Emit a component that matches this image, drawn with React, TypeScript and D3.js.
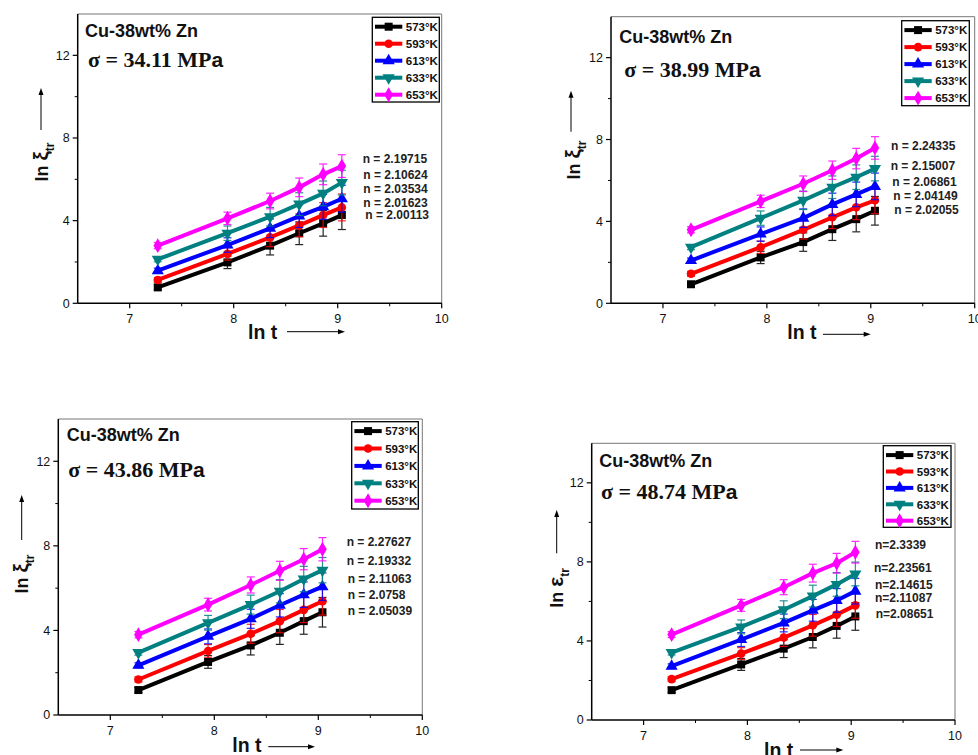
import React from 'react';
import * as d3 from 'd3';

// ---- data ----
const LN_T = [7.27, 7.94, 8.35, 8.63, 8.86, 9.04];
const TEMPS = ['573°K', '593°K', '613°K', '633°K', '653°K'];
const COLORS = ['#000000', '#ff0000', '#0000ff', '#008080', '#ff00ff'];
const SIGMAS = ['34.11', '38.99', '43.86', '48.74'];
const Y_SYMBOLS = ['ξ', 'ξ', 'ξ', 'ε'];
const X_TICKS = [7, 8, 9, 10];
const X_MINOR = [7.5, 8.5, 9.5];
const Y_TICKS = [0, 4, 8, 12];
const Y_MINOR = [2, 6, 10];

const P1_573 = [0.77, 1.98, 2.79, 3.39, 3.87, 4.27];
const P1_593 = [1.13, 2.39, 3.19, 3.77, 4.27, 4.64];
const P1_613 = [1.58, 2.82, 3.63, 4.22, 4.67, 5.06];
const P1_633 = [2.13, 3.39, 4.19, 4.80, 5.32, 5.84];
const P1_653 = [2.79, 4.11, 4.95, 5.61, 6.24, 6.64];

const P2_573 = [0.93, 2.24, 2.99, 3.62, 4.11, 4.52];
const P2_593 = [1.44, 2.74, 3.59, 4.20, 4.69, 5.03];
const P2_613 = [2.09, 3.38, 4.16, 4.83, 5.32, 5.71];
const P2_633 = [2.74, 4.16, 5.03, 5.67, 6.16, 6.58];
const P2_653 = [3.59, 4.98, 5.84, 6.50, 7.07, 7.59];

const P3_573 = [1.18, 2.51, 3.29, 3.89, 4.44, 4.86];
const P3_593 = [1.68, 3.03, 3.84, 4.44, 4.97, 5.38];
const P3_613 = [2.35, 3.72, 4.55, 5.19, 5.69, 6.07];
const P3_633 = [2.95, 4.36, 5.22, 5.85, 6.43, 6.85];
const P3_653 = [3.80, 5.22, 6.15, 6.82, 7.37, 7.84];

const P4_573 = [1.51, 2.81, 3.61, 4.20, 4.76, 5.24];
const P4_593 = [2.07, 3.36, 4.17, 4.79, 5.33, 5.80];
const P4_613 = [2.72, 4.07, 4.91, 5.55, 6.05, 6.52];
const P4_633 = [3.41, 4.71, 5.58, 6.27, 6.86, 7.39];
const P4_653 = [4.32, 5.80, 6.72, 7.43, 7.93, 8.49];

const ERR_573 = [0.12, 0.3, 0.45, 0.55, 0.62, 0.7];
const ERR_593 = [0.12, 0.3, 0.45, 0.55, 0.6, 0.65];
const ERR_613 = [0.12, 0.35, 0.45, 0.55, 0.6, 0.65];
const ERR_633 = [0.12, 0.35, 0.45, 0.55, 0.6, 0.6];
const ERR_653 = [0.15, 0.3, 0.38, 0.45, 0.5, 0.55];

const N_P1 = ['n = 2.19715', 'n = 2.10624', 'n = 2.03534', 'n = 2.01623', 'n = 2.00113'];
const N_P2 = ['n = 2.24335', 'n = 2.15007', 'n = 2.06861', 'n = 2.04149', 'n = 2.02055'];
const N_P3 = ['n = 2.27627', 'n = 2.19332', 'n = 2.11063', 'n = 2.0758', 'n = 2.05039'];
const N_P4 = ['n=2.3339', 'n=2.23561', 'n=2.14615', 'n=2.11087', 'n=2.08651'];

const PANEL_SERIES = [
  [P1_573, P1_593, P1_613, P1_633, P1_653],
  [P2_573, P2_593, P2_613, P2_633, P2_653],
  [P3_573, P3_593, P3_613, P3_633, P3_653],
  [P4_573, P4_593, P4_613, P4_633, P4_653],
];
const ERRORS = [ERR_573, ERR_593, ERR_613, ERR_633, ERR_653];
const N_LABELS = [N_P1, N_P2, N_P3, N_P4];

// ---- layout ----
const LAYOUT = [
  {
    plot: { l: 77.7, t: 14, r: 441.7, b: 303.3 },
    title: [85, 36.7], sigma: [88, 66.7],
    legend: { x: 372.3, y: 17.3, w: 67, h: 84.7, gap: 17 },
    nx: [362.7, 363.3, 363.3, 363.3, 365.3], ny: [163.3, 179, 193.3, 206.7, 219.3],
    ylab: [48, 162], yarrow: [41, 130, 88],
    xlab: [248, 339], xarrow: [287, 345, 331.7],
  },
  {
    plot: { l: 611, t: 16.7, r: 974.7, b: 303.3 },
    title: [619.3, 42.7], sigma: [624.3, 77.3],
    legend: { x: 901.7, y: 20.7, w: 67.6, h: 85, gap: 17 },
    nx: [891, 890.7, 892.3, 893.3, 894.3], ny: [150, 170, 186, 200, 214],
    ylab: [580, 160], yarrow: [571, 131.7, 90.7],
    xlab: [787.3, 339.3], xarrow: [823, 870.7, 334.3],
  },
  {
    plot: { l: 58.3, t: 419, r: 422.3, b: 715 },
    title: [66.7, 440.7], sigma: [68.3, 476.7],
    legend: { x: 351.7, y: 421.7, w: 66.6, h: 87.3, gap: 17.4 },
    nx: [346.7, 346.7, 347.7, 347.7, 347.7], ny: [545.7, 564.7, 582.7, 598.7, 615.3],
    ylab: [28.3, 574], yarrow: [21.7, 540, 495],
    xlab: [232.3, 751.7], xarrow: [268.3, 315, 746.7],
  },
  {
    plot: { l: 591.7, t: 443.3, r: 955, b: 720 },
    title: [599.3, 466.7], sigma: [601, 499],
    legend: { x: 883.3, y: 445.7, w: 67.7, h: 81.6, gap: 16.4 },
    nx: [875, 874, 875, 875, 875.7], ny: [549.3, 571.7, 589.3, 602.3, 617.7],
    ylab: [563.3, 588], yarrow: [556.7, 553.3, 510],
    xlab: [764, 757], xarrow: [800, 843.3, 750],
  },
];

const SANS = 'Liberation Sans, Arial, sans-serif';
const SERIF = 'Liberation Serif, Times New Roman, serif';

function markerPath(i: number, size = 64): string {
  const types = [d3.symbolSquare, d3.symbolCircle, d3.symbolTriangle, d3.symbolTriangle, d3.symbolDiamond];
  return d3.symbol().type(types[i]).size(i === 1 ? 58 : size)() as string;
}

function Marker({ i, x, y, color }: { i: number; x: number; y: number; color: string }) {
  const rot = i === 3 ? 180 : 0;
  return <path d={markerPath(i)} transform={`translate(${x},${y}) rotate(${rot})`} fill={color} />;
}

function Panel({ p }: { p: number }) {
  const L = LAYOUT[p];
  const { l, t, r, b } = L.plot;
  const x = d3.scaleLinear().domain([6.5, 10]).range([l, r]);
  const y = d3.scaleLinear().domain([0, 14]).range([b, t]);
  const line = d3.line<number>().x((_, k) => x(LN_T[k])).y((v) => y(v));
  const series = PANEL_SERIES[p];
  return (
    <g>
      {/* frame */}
      <line x1={l} x2={r} y1={t} y2={t} stroke="#777" strokeWidth={1} />
      <line x1={r} x2={r} y1={t} y2={b} stroke="#777" strokeWidth={1} />
      <line x1={l} x2={r} y1={b} y2={b} stroke="#000" strokeWidth={1.5} />
      <line x1={l} x2={l} y1={t} y2={b} stroke="#000" strokeWidth={1.5} />
      {/* x ticks */}
      {X_TICKS.map((v) => (
        <g key={'xt' + v}>
          <line x1={x(v)} x2={x(v)} y1={b} y2={b + 5} stroke="#000" strokeWidth={1.2} />
          <text x={x(v)} y={b + 19.5} textAnchor="middle" fontFamily={SANS} fontSize={12.5} fill="#111">{v}</text>
        </g>
      ))}
      {X_MINOR.map((v) => (
        <line key={'xm' + v} x1={x(v)} x2={x(v)} y1={b} y2={b + 3} stroke="#000" strokeWidth={1} />
      ))}
      {/* y ticks */}
      {Y_TICKS.map((v) => (
        <g key={'yt' + v}>
          <line x1={l - 5} x2={l} y1={y(v)} y2={y(v)} stroke="#000" strokeWidth={1.2} />
          <text x={l - 8} y={y(v) + 4.3} textAnchor="end" fontFamily={SANS} fontSize={12.5} fill="#111">{v}</text>
        </g>
      ))}
      {Y_MINOR.map((v) => (
        <line key={'ym' + v} x1={l - 3} x2={l} y1={y(v)} y2={y(v)} stroke="#000" strokeWidth={1} />
      ))}
      {/* series */}
      {series.map((vals, i) => (
        <g key={'s' + i}>
          <path d={line(vals) as string} fill="none" stroke={COLORS[i]} strokeWidth={4} />
          {vals.map((v, k) => {
            const e = ERRORS[i][k];
            const cx = x(LN_T[k]);
            return (
              <g key={'e' + k} stroke={COLORS[i]} strokeWidth={1.2} opacity={0.85}>
                <line x1={cx} x2={cx} y1={y(v - e)} y2={y(v + e)} />
                <line x1={cx - 4} x2={cx + 4} y1={y(v - e)} y2={y(v - e)} />
                <line x1={cx - 4} x2={cx + 4} y1={y(v + e)} y2={y(v + e)} />
              </g>
            );
          })}
          {vals.map((v, k) => (
            <Marker key={'m' + k} i={i} x={x(LN_T[k])} y={y(v)} color={COLORS[i]} />
          ))}
        </g>
      ))}
      {/* title & sigma */}
      <text x={L.title[0]} y={L.title[1]} fontFamily={SANS} fontWeight="bold" fontSize={18} fill="#111">Cu-38wt% Zn</text>
      <text x={L.sigma[0]} y={L.sigma[1]} fontFamily={SERIF} fontWeight="bold" fontSize={22} fill="#111">
        {'σ = ' + SIGMAS[p] + ' MP'}
        <tspan fontFamily={SANS} fontSize={21}>a</tspan>
      </text>
      {/* legend */}
      <rect x={L.legend.x} y={L.legend.y} width={L.legend.w} height={L.legend.h} fill="#fff" stroke="#000" strokeWidth={1.3} />
      {TEMPS.map((tName, i) => {
        const ry = L.legend.y + 9.4 + i * L.legend.gap;
        const x0 = L.legend.x + 2.7;
        const x1 = L.legend.x + 30;
        return (
          <g key={'lg' + i}>
            <line x1={x0} x2={x1} y1={ry} y2={ry} stroke={COLORS[i]} strokeWidth={4} />
            <Marker i={i} x={(x0 + x1) / 2} y={ry} color={COLORS[i]} />
            <text x={L.legend.x + 33.5} y={ry + 4.2} fontFamily={SANS} fontWeight="bold" fontSize={11.5} fill="#111">{tName}</text>
          </g>
        );
      })}
      {/* n labels */}
      {N_LABELS[p].map((s, i) => (
        <text key={'n' + i} x={L.nx[i]} y={L.ny[i]} fontFamily={SANS} fontWeight="bold" fontSize={12} fill="#222">{s}</text>
      ))}
      {/* y label */}
      <text transform={`translate(${L.ylab[0]},${L.ylab[1]}) rotate(-90)`} textAnchor="middle" fontFamily={SANS} fontWeight="bold" fontSize={18} fill="#111">
        {'ln '}
        <tspan fontSize={21}>{Y_SYMBOLS[p]}</tspan>
        <tspan fontSize={12} dy={6}>tr</tspan>
      </text>
      <line x1={L.yarrow[0]} x2={L.yarrow[0]} y1={L.yarrow[1]} y2={L.yarrow[2] + 5} stroke="#000" strokeWidth={1} />
      <path d={`M${L.yarrow[0]},${L.yarrow[2]} l-2.5,7 l5,0 z`} fill="#000" />
      {/* x label */}
      <text x={L.xlab[0]} y={L.xlab[1]} fontFamily={SANS} fontWeight="bold" fontSize={19.5} fill="#111">ln t</text>
      <line x1={L.xarrow[0]} x2={L.xarrow[1] - 5} y1={L.xarrow[2]} y2={L.xarrow[2]} stroke="#000" strokeWidth={1} />
      <path d={`M${L.xarrow[1]},${L.xarrow[2]} l-7,-2.5 l0,5 z`} fill="#000" />
    </g>
  );
}

export default function App() {
  return (
    <svg width={978} height={755} style={{ position: 'absolute', left: 0, top: 0, background: '#fff' }}>
      <rect width={978} height={755} fill="#fff" />
      {[0, 1, 2, 3].map((p) => (
        <Panel key={p} p={p} />
      ))}
    </svg>
  );
}
